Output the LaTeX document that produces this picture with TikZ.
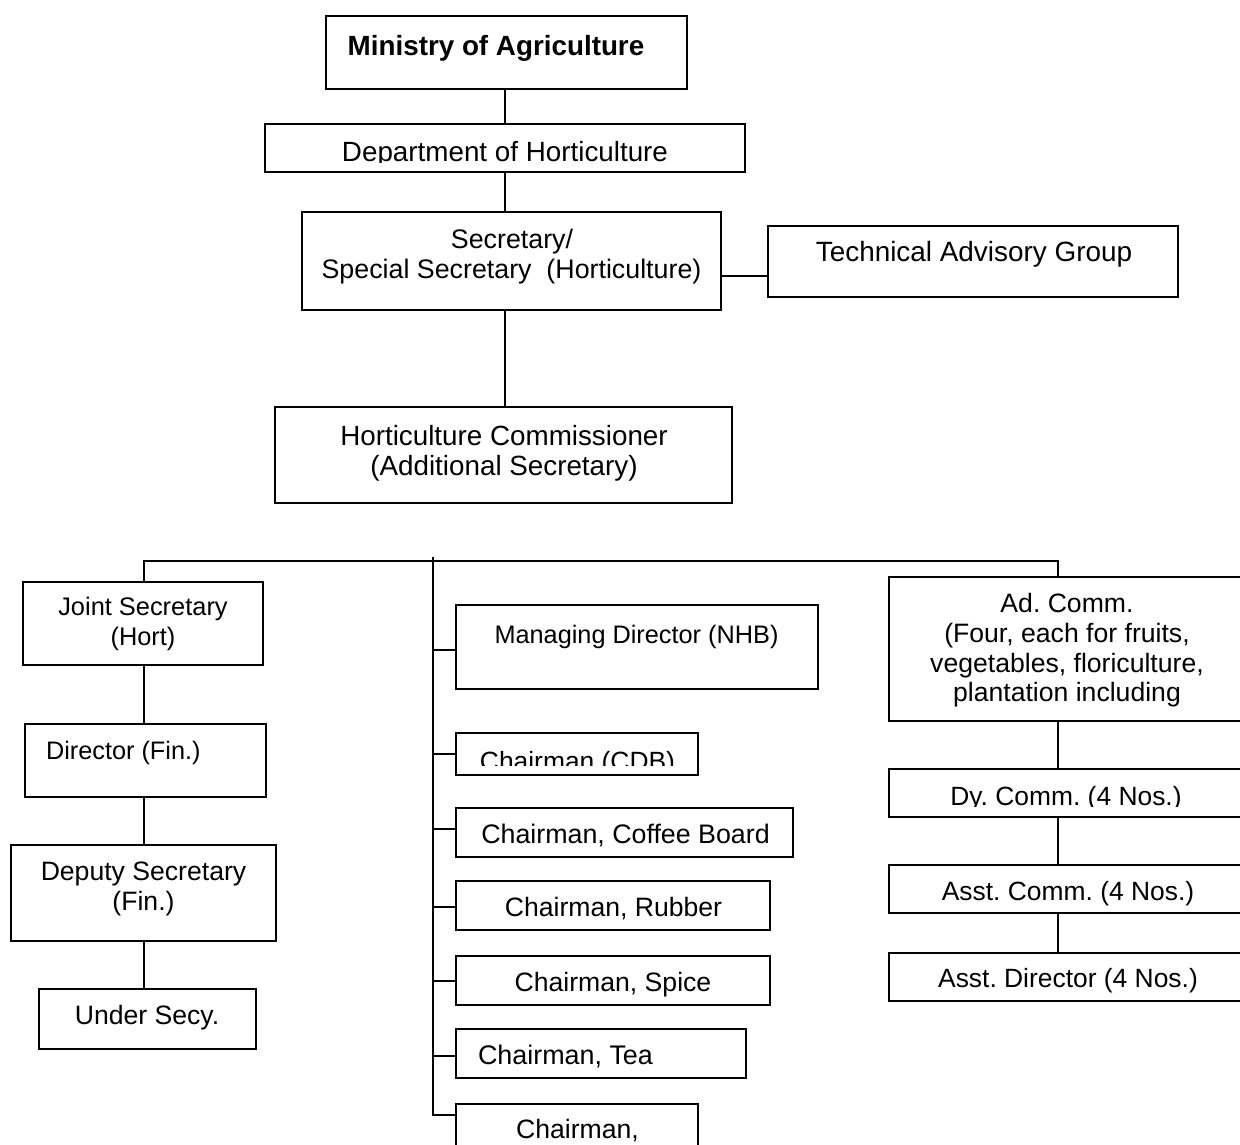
\documentclass[tikz,border=0pt]{standalone}
\usepackage{fontspec}
\setmainfont{Liberation Sans}
\frenchspacing
\tikzset{
  box/.style={draw, line width=2.2pt, rectangle, inner sep=0pt, outer sep=0pt},
  lbl/.style={inner sep=0pt, outer sep=0pt, anchor=base, font=\fontsize{#1}{30}\selectfont},
  lbl/.default=26.6,
  conn/.style={line width=2.2pt},
}
\newcommand\orgbox[5]{\node[box, minimum width={(#4)-(#2)}, minimum height={(#5)-(#3)}] (#1) at ({((#2)+(#4))/2},{((#3)+(#5))/2}) {};}
\begin{document}
\begin{tikzpicture}[x=1pt,y=-1pt]
\useasboundingbox (0,0) rectangle (1240,1144);
\clip (0,0) rectangle (1240,1144);
\fill[white] (0,0) rectangle (1240,1144);
% boxes
\orgbox{min}{326}{16}{687}{89}
\orgbox{dept}{265}{124}{745}{172}
\orgbox{sec}{302}{212}{721}{310}
\orgbox{tag}{768}{226}{1178}{297}
\orgbox{hc}{275}{407}{732}{503}
\orgbox{js}{23}{582}{263}{665}
\orgbox{dir}{25}{724}{266}{797}
\orgbox{dep}{11}{845}{276}{941}
\orgbox{und}{39}{989}{256}{1049}
\orgbox{md}{456}{605}{818}{689}
\orgbox{cdb}{456}{733}{698}{775}
\orgbox{cof}{456}{808}{793}{857}
\orgbox{rub}{456}{881}{770}{930}
\orgbox{spi}{456}{956}{770}{1005}
\orgbox{tea}{456}{1029}{746}{1078}
\orgbox{last}{456}{1104}{698}{1170}
\orgbox{ad}{889}{577}{1260}{721}
\orgbox{dy}{889}{769}{1260}{817}
\orgbox{ac}{889}{865}{1260}{913}
\orgbox{adir}{889}{953}{1260}{1001}
% texts
\node[lbl=27.8, font=\fontsize{27.8}{30}\selectfont\bfseries] (min-t) at (496,55) {Ministry of Agriculture};
\begin{scope}
\clip (266,125) rectangle (744,162);
\node[lbl=27.8] (dept-t) at (505,161) {Department of Horticulture};
\end{scope}
\node[lbl=26.8] (sec-t1) at (512,248) {Secretary/};
\node[lbl=26.8] (sec-t2) at (511.5,278) {Special Secretary\ \ (Horticulture)};
\node[lbl=27.9] (tag-t) at (974,261) {Technical Advisory Group};
\node[lbl=27.8] (hc-t1) at (504,445) {Horticulture Commissioner};
\node[lbl=27.8] (hc-t2) at (504,475) {(Additional Secretary)};
\node[lbl=25.4] (js-t1) at (143,615) {Joint Secretary};
\node[lbl=25.4] (js-t2) at (143,645) {(Hort)};
\node[lbl=25.3, anchor=base west] (dir-t) at (46,759) {Director (Fin.)};
\node[lbl] (dep-t1) at (143.5,880) {Deputy Secretary};
\node[lbl] (dep-t2) at (143.5,910) {(Fin.)};
\node[lbl] (und-t) at (147,1024) {Under Secy.};
\node[lbl=25.3] (md-t) at (636.5,643) {Managing Director (NHB)};
\begin{scope}
\clip (457,734) rectangle (697,765);
\node[lbl=26.4] (cdb-t) at (577.5,770) {Chairman (CDB)};
\end{scope}
\node[lbl=26.8] (cof-t) at (625.5,843) {Chairman, Coffee Board};
\node[lbl] (rub-t) at (613.5,916) {Chairman, Rubber};
\node[lbl] (spi-t) at (613,991) {Chairman, Spice};
\node[lbl=26.9, anchor=base west] (tea-t) at (478,1064) {Chairman, Tea};
\node[lbl] (last-t) at (577.5,1138) {Chairman,};
\node[lbl] (ad-t1) at (1067,612) {Ad. Comm.};
\node[lbl] (ad-t2) at (1067,642) {(Four, each for fruits,};
\node[lbl] (ad-t3) at (1067,672) {vegetables, floriculture,};
\node[lbl] (ad-t4) at (1067,701) {plantation including};
\begin{scope}
\clip (890,770) rectangle (1240,806.5);
\node[lbl=26.4] (dy-t) at (1066,805) {Dy. Comm. (4 Nos.)};
\end{scope}
\node[lbl=26.4] (ac-t) at (1068,900) {Asst. Comm. (4 Nos.)};
\node[lbl=26.4] (adir-t) at (1068,987) {Asst. Director (4 Nos.)};
% connectors
\coordinate (topx) at (505,0);
\draw[conn] (min.south -| topx) -- (dept.north -| topx);
\draw[conn] (dept.south -| topx) -- (sec.north -| topx);
\draw[conn] (sec.south -| topx) -- (hc.north -| topx);
\coordinate (tagy) at (0,276);
\draw[conn] (sec.east |- tagy) -- (tag.west |- tagy);
\coordinate (busL) at (144,561);
\coordinate (busR) at (1058,561);
\draw[conn] (js.north -| busL) -- (busL) -- (busR) -- (ad.north -| busR);
\draw[conn] (js.south -| busL) -- (dir.north -| busL);
\draw[conn] (dir.south -| busL) -- (dep.north -| busL);
\draw[conn] (dep.south -| busL) -- (und.north -| busL);
\draw[conn] (ad.south -| busR) -- (dy.north -| busR);
\draw[conn] (dy.south -| busR) -- (ac.north -| busR);
\draw[conn] (ac.south -| busR) -- (adir.north -| busR);
\coordinate (mtop) at (433,557);
\coordinate (mbot) at (433,1115);
\draw[conn] (mtop) -- (mbot) -- (mbot -| last.west);
\draw[conn] (mtop |- 0,650) -- (md.west |- 0,650);
\draw[conn] (mtop |- cdb.west) -- (cdb.west);
\draw[conn] (mtop |- 0,829) -- (cof.west |- 0,829);
\draw[conn] (mtop |- 0,907) -- (rub.west |- 0,907);
\draw[conn] (mtop |- 0,981) -- (spi.west |- 0,981);
\draw[conn] (mtop |- 0,1056) -- (tea.west |- 0,1056);
\end{tikzpicture}
\end{document}
